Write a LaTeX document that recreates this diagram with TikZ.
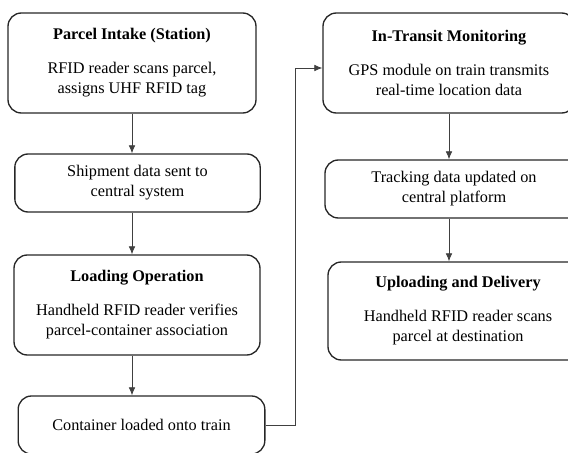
\documentclass[tikz,border=0pt]{standalone}
\usepackage{fontspec}
\setmainfont{Liberation Serif}
\usetikzlibrary{arrows.meta}
\usetikzlibrary{positioning}

\tikzset{
  stepbox/.style={draw=black!85, line width=1pt, rounded corners=10pt,
    align=center, inner sep=0pt, font=\fontsize{12.2pt}{15pt}\selectfont},
  bigbox/.style={stepbox, minimum height=75pt},
  smallbox/.style={stepbox, minimum height=43.5pt},
  flow/.style={->, draw=black!75, line width=0.6pt}
}

\begin{document}
\begin{tikzpicture}[x=0.75pt, y=-0.75pt, >={Latex[length=6pt,width=5pt]}]
\path[use as bounding box, clip] (0,0) rectangle (568,453);

%left column
\node[bigbox, minimum width=186pt] (intake) at (132,63)
  {\textbf{Parcel Intake (Station)}\\[10.5pt]RFID reader scans parcel,\\assigns UHF RFID tag};
\node[smallbox, minimum width=184pt] (shipment) at (137.5,183)
  {Shipment data sent to\\central system};
\node[bigbox, minimum width=184.5pt] (loading) at (137,305)
  {\textbf{Loading Operation}\\[10.5pt]Handheld RFID reader verifies\\parcel-container association};
\node[smallbox, minimum width=185pt] (container) at (141.5,425)
  {Container loaded onto train};

%right column
\node[bigbox, minimum width=189pt] (transit) at (449,63)
  {\textbf{In-Transit Monitoring}\\[10.5pt]GPS module on train transmits\\real-time location data};
\node[smallbox, minimum width=193.5pt] (tracking) at (454,189)
  {Tracking data updated on\\central platform};
\node[bigbox, minimum width=195pt, minimum height=73.5pt] (delivery) at (458,311)
  {\textbf{Uploading and Delivery}\\[10.5pt]Handheld RFID reader scans\\parcel at destination};

%arrows
\draw[flow] (intake.south) -- (intake.south |- shipment.north);
\draw[flow] (shipment.south -| intake.south) -- (intake.south |- loading.north);
\draw[flow] (loading.south -| intake.south) -- (intake.south |- container.north);
\draw[flow] (transit.south) -- (transit.south |- tracking.north);
\draw[flow] (tracking.south -| transit.south) -- (transit.south |- delivery.north);

\coordinate (bend) at (295,68);
\draw[flow] (container.east) -| (bend) -- (bend -| transit.west);
\end{tikzpicture}
\end{document}
